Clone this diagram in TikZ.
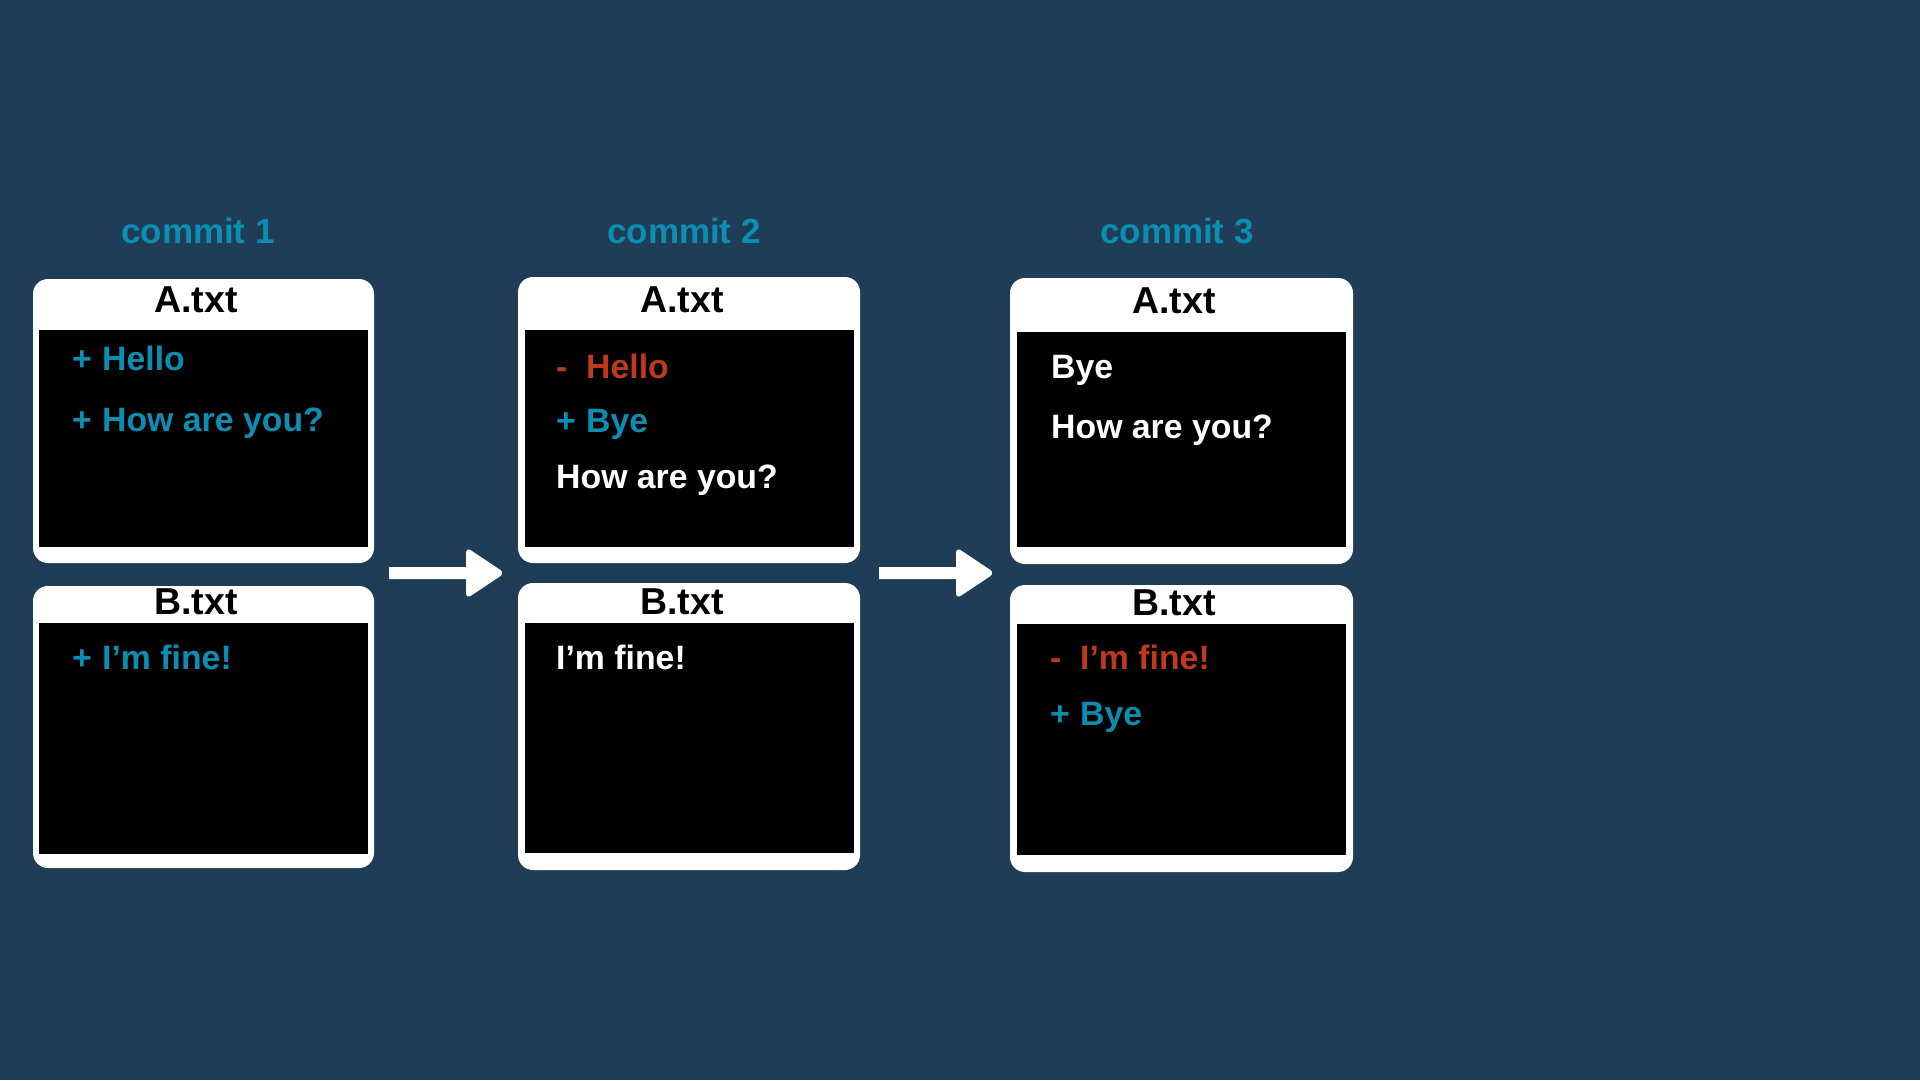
\documentclass[tikz,border=0pt]{standalone}
\usepackage{fontspec}
\setmainfont{Liberation Sans}
\begin{document}
\begin{tikzpicture}[x=1pt,y=-1pt]
\definecolor{bg}{HTML}{1F3D56}
\definecolor{addc}{HTML}{0C8DB2}
\definecolor{delc}{HTML}{C0391B}
\tikzset{
  frame/.style={fill=white, rounded corners=15pt, inner sep=0pt, outer sep=0pt, anchor=north west, minimum width=341pt, minimum height=284pt},
  screen/.style={fill=black, inner sep=0pt, outer sep=0pt, anchor=north west, minimum width=329pt},
  title/.style={font=\bfseries\fontsize{35}{40}\selectfont, text=addc, anchor=base, inner sep=0pt},
  fname/.style={font=\bfseries\fontsize{37.5}{44}\selectfont, text=black, anchor=base, inner sep=0pt},
  line/.style={font=\bfseries\fontsize{33.8}{40}\selectfont, anchor=base west, inner sep=0pt},
  blockarrow/.style={fill=white}
}
\newcommand\sgn[1]{\makebox[30pt][l]{#1}}
\fill[bg] (0,0) rectangle (1920,1080);
\useasboundingbox (0,0) rectangle (1920,1080);

% commit labels
\node[title] (t1) at (198,243) {commit 1};
\node[title] (t2) at (684,243) {commit 2};
\node[title] (t3) at (1177,243) {commit 3};

% commit 1
\node[frame] (a1) at (33,279) {};
\node[screen, minimum height=217pt] (a1s) at (39,330) {};
\node[fname] (a1n) at (196,312) {A.txt};
\node[line, text=addc] (a1l1) at (72,370) {\sgn{+}Hello};
\node[line, text=addc] (a1l2) at (72,431) {\sgn{+}How are you?};

\node[frame, minimum height=282pt] (b1) at (33,586) {};
\node[screen, minimum height=231pt] (b1s) at (39,623) {};
\node[fname] (b1n) at (196,614) {B.txt};
\node[line, text=addc] (b1l1) at (72,669) {\sgn{+}I’m fine!};

% commit 2
\node[frame, minimum width=342pt, minimum height=286pt] (a2) at (518,277) {};
\node[screen, minimum height=217pt] (a2s) at (525,330) {};
\node[fname] (a2n) at (682,312) {A.txt};
\node[line, text=delc] (a2l1) at (556,378) {\sgn{-}Hello};
\node[line, text=addc] (a2l2) at (556,432) {\sgn{+}Bye};
\node[line, text=white] (a2l3) at (556,488) {How are you?};

\node[frame, minimum width=342pt, minimum height=287pt] (b2) at (518,583) {};
\node[screen, minimum height=230pt] (b2s) at (525,623) {};
\node[fname] (b2n) at (682,614) {B.txt};
\node[line, text=white] (b2l1) at (556,669) {I’m fine!};

% commit 3
\node[frame, minimum width=343pt, minimum height=286pt] (a3) at (1010,278) {};
\node[screen, minimum height=215pt] (a3s) at (1017,332) {};
\node[fname] (a3n) at (1174,313) {A.txt};
\node[line, text=white] (a3l1) at (1051,378) {Bye};
\node[line, text=white] (a3l2) at (1051,438) {How are you?};

\node[frame, minimum width=343pt, minimum height=287pt] (b3) at (1010,585) {};
\node[screen, minimum height=231pt] (b3s) at (1017,624) {};
\node[fname] (b3n) at (1174,615) {B.txt};
\node[line, text=delc] (b3l1) at (1050,669) {\sgn{-}I’m fine!};
\node[line, text=addc] (b3l2) at (1050,725) {\sgn{+}Bye};

% block arrows
\fill[blockarrow] (389,567) -- (466,567)
  [rounded corners=6pt] -- (466,547) -- (505,573) -- (466,599)
  [sharp corners] -- (466,579) -- (389,579) -- cycle;
\fill[blockarrow] (879,567) -- (956,567)
  [rounded corners=6pt] -- (956,547) -- (995,573) -- (956,599)
  [sharp corners] -- (956,579) -- (879,579) -- cycle;
\end{tikzpicture}
\end{document}
